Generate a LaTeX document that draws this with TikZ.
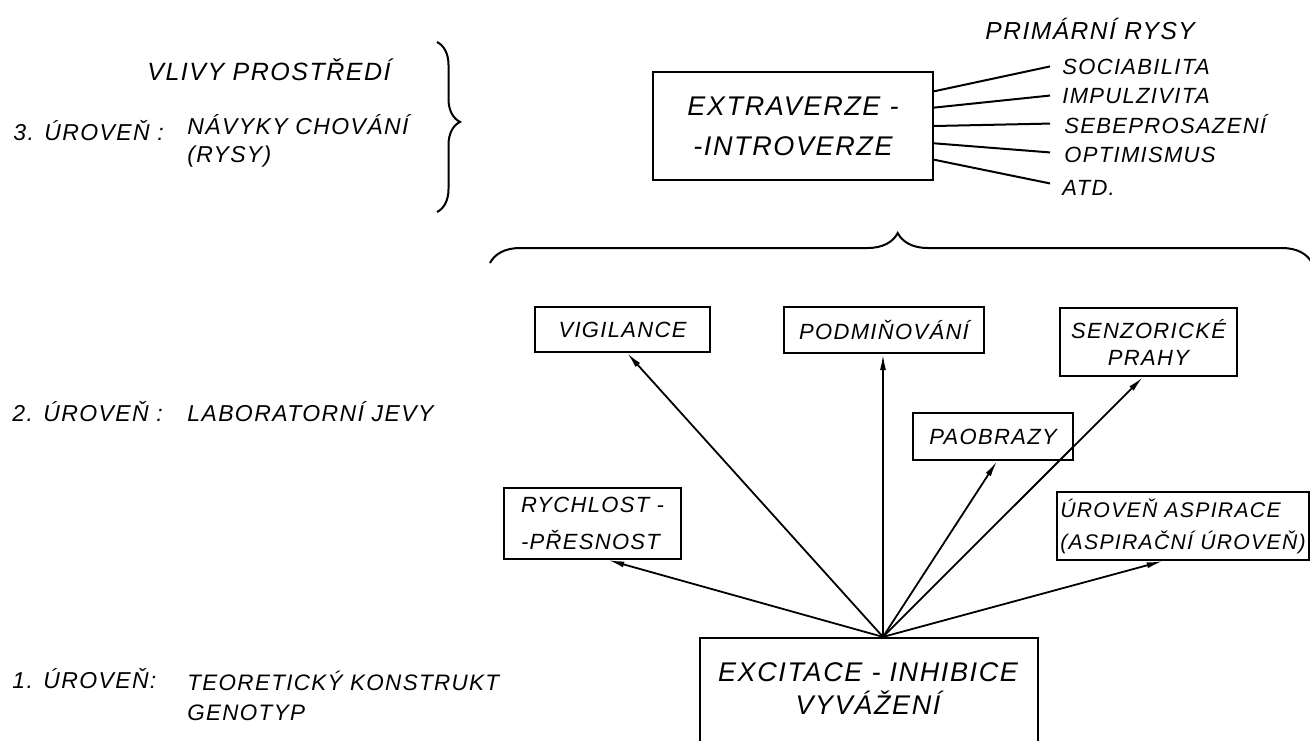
\documentclass[tikz,border=0pt]{standalone}
\usepackage{fontspec}
\setmainfont{Liberation Sans}[LetterSpace=6.0]
\usetikzlibrary{arrows.meta,decorations.pathreplacing,calc}
\begin{document}
\begin{tikzpicture}[x=0.5pt,y=-0.5pt,
  every node/.style={inner sep=0pt},
  lvl/.style={font=\fontsize{11.5}{14}\selectfont\itshape},
  trait/.style={font=\fontsize{11}{15}\selectfont\itshape, anchor=base west},
  bx/.style={draw, line width=1.1pt, align=center, font=\fontsize{11}{13.5}\selectfont\itshape},
  bigbx/.style={draw, line width=1.1pt, align=center, font=\fontsize{13.5}{20}\selectfont\itshape},
  arr/.style={line width=0.9pt, -{Latex[length=8pt,width=3pt]}},
  lnk/.style={line width=1pt},
  brc/.style={line width=1pt, decorate, decoration={brace, amplitude=#1}}
]
\useasboundingbox (0,0) rectangle (1310,740);
\fill[white] (0,0) rectangle (1310,740);

% level labels
\node[lvl, anchor=base west, font=\fontsize{12.5}{14}\selectfont\itshape] (vlivy) at (147,80) {VLIVY PROSTŘEDÍ};
\node[lvl, anchor=base west] (l3) at (13,140) {3. ÚROVEŇ :};
\node[lvl, anchor=west, align=left] (navyky) at (187,141) {NÁVYKY CHOVÁNÍ\\(RYSY)};
\node[lvl, anchor=base west] (l2) at (12,421) {2. ÚROVEŇ :};
\node[lvl, anchor=base west] (lab) at (187,421) {LABORATORNÍ JEVY};
\node[lvl, anchor=base west] (l1) at (12,688) {1. ÚROVEŇ:};
\node[lvl, anchor=west, align=left, font=\fontsize{11.2}{15}\selectfont\itshape] (teor) at (187,696) {TEORETICKÝ KONSTRUKT\\GENOTYP};

% braces
\draw[brc=11.5pt, decoration={aspect=0.47}] (437,42) -- (437,212);
\draw[brc=15pt, decoration={aspect=0.496}] (490,263) -- (1312,263);

% level 3
\node[bigbx, minimum width=140pt, minimum height=54pt] (extra) at (793,126) {EXTRAVERZE -\\-INTROVERZE};
\node[trait, font=\fontsize{12.3}{15}\selectfont\itshape] (prim) at (985,39) {PRIMÁRNÍ RYSY};
\node[trait] (soc) at (1062,74) {SOCIABILITA};
\node[trait] (imp) at (1062,103) {IMPULZIVITA};
\node[trait] (seb) at (1064,133) {SEBEPROSAZENÍ};
\node[trait] (opt) at (1064,162) {OPTIMISMUS};
\node[trait] (atd) at (1062,195) {ATD.};
\draw[lnk] ($(extra.north east)!0.185!(extra.south east)$) -- ([xshift=-6pt]soc.west);
\draw[lnk] ($(extra.north east)!0.333!(extra.south east)$) -- ([xshift=-6pt]imp.west);
\draw[lnk] ($(extra.north east)!0.5!(extra.south east)$) -- ([xshift=-7pt]seb.west);
\draw[lnk] ($(extra.north east)!0.657!(extra.south east)$) -- ([xshift=-7pt,yshift=1pt]opt.west);
\draw[lnk] ($(extra.north east)!0.806!(extra.south east)$) -- ([xshift=-6pt,yshift=2pt]atd.west);

% level 2 boxes
\node[bx, minimum width=87.5pt, minimum height=22.5pt] (vig) at (622.5,329.5) {VIGILANCE};
\node[bx, minimum width=100pt, minimum height=23pt] (pod) at (884,330) {PODMIŇOVÁNÍ};
\node[bx, minimum width=88.5pt, minimum height=34pt] (senz) at (1148.5,342) {SENZORICKÉ\\PRAHY};
\node[bx, minimum width=80pt, minimum height=23.5pt] (pao) at (993,436.5) {PAOBRAZY};
\node[bx, align=left, minimum width=88.5pt, minimum height=35.5pt, font=\fontsize{11}{18.5}\selectfont\itshape] (rych) at (592.5,523.5) {RYCHLOST -\\-PŘESNOST};
\node[bx, align=left, minimum width=126pt, minimum height=34pt, font=\fontsize{10.6}{16}\selectfont\itshape] (urov) at (1183,526) {ÚROVEŇ ASPIRACE\\(ASPIRAČNÍ ÚROVEŇ)};

% level 1
\node[draw, line width=1.1pt, minimum width=169pt, minimum height=81pt] (exc) at (869,719) {};
\node[font=\fontsize{13.5}{16.5}\selectfont\itshape, align=center] (exctext) at (868,689) {EXCITACE - INHIBICE\\VYVÁŽENÍ};
\coordinate (apex) at ($(exc.north west)!0.541!(exc.north east)$);

% arrows
\draw[arr] (apex) -- ($(vig.south west)!0.526!(vig.south east)$);
\draw[arr] (apex) -- ($(pod.south west)!0.495!(pod.south east)$);
\draw[arr] (apex) -- ($(pao.south west)!0.525!(pao.south east)$);
\draw[arr] (apex) -- ($(senz.south west)!0.469!(senz.south east)$);
\draw[arr] (apex) -- ($(rych.south west)!0.588!(rych.south east)$);
\draw[arr] (apex) -- ($(urov.south west)!0.42!(urov.south east)$);
\end{tikzpicture}
\end{document}
